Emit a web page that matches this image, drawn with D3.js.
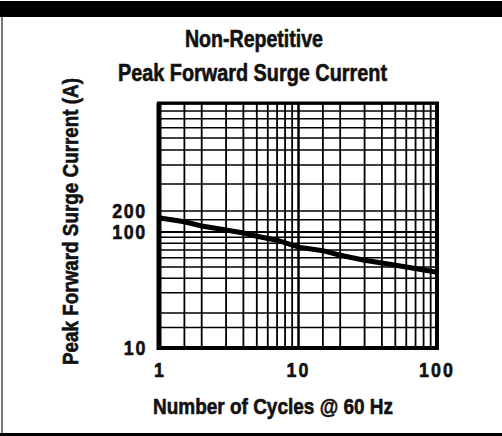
<!DOCTYPE html>
<html>
<head>
<meta charset="utf-8">
<script src="https://cdn.jsdelivr.net/npm/d3@7"></script>
<style>
    body { margin: 0; background: #fff; }
    svg { display: block; }
    text { font-family: "Liberation Sans", Arial, sans-serif; font-weight: bold; fill: #111; stroke: #111; stroke-width: 0.6px; }
</style>
</head>
<body>
<svg id="chart" width="502" height="436"></svg>
<script>
// surge curve
const cycles = [1, 1.5, 2, 3, 4, 5, 7, 10, 15, 20, 30, 40, 60, 100];
const surgeCurrent = [159, 140, 122, 107, 98, 92, 85, 74, 69, 63, 57, 54, 50, 45];

const xGridValues = [1, 1.5, 2, 3, 4, 5, 6, 7, 8, 9, 10, 15, 20, 30, 40, 50, 60, 70, 80, 90, 100];
const yGridValues = [10, 15, 20, 30, 40, 50, 60, 70, 80, 90, 100, 150, 200, 300, 400, 500, 600, 700, 800, 900, 1000];
const xTickLabels = [1, 10, 100];
const yTickLabels = [10, 100, 200];

const svg = d3.select('#chart');

// frame of the page
svg.append('rect').attr('x', 0).attr('y', 0).attr('width', 502).attr('height', 436).attr('fill', '#fff');
svg.append('rect').attr('x', 0).attr('y', 1).attr('width', 502).attr('height', 16).attr('fill', '#000');
svg.append('rect').attr('x', 0).attr('y', 433).attr('width', 502).attr('height', 3).attr('fill', '#000');
svg.append('rect').attr('x', 1).attr('y', 17).attr('width', 2).attr('height', 416).attr('fill', '#777');

const x = d3.scaleLog().domain([1, 100]).range([160, 437]);
// the scanned axis is not evenly spaced, so the log scale is piecewise
const y = d3.scaleLog().domain([10, 100, 200, 1000]).range([348, 232, 211, 104]);

const g = svg.append('g');

g.selectAll('line.vgrid')
    .data(xGridValues)
    .join('line')
    .attr('class', 'vgrid')
    .attr('x1', d => x(d)).attr('x2', d => x(d))
    .attr('y1', y(1000)).attr('y2', y(10))
    .attr('stroke', '#000')
    .attr('stroke-width', d => d === 10 ? 2.5 : 1.8);

g.selectAll('line.hgrid')
    .data(yGridValues)
    .join('line')
    .attr('class', 'hgrid')
    .attr('x1', x(1)).attr('x2', x(100))
    .attr('y1', d => y(d)).attr('y2', d => y(d))
    .attr('stroke', '#000')
    .attr('stroke-width', d => d === 100 ? 2 : 1.5);

// thick plot border
g.append('line').attr('x1', x(1) - 1).attr('x2', x(1) - 1).attr('y1', y(1000) - 1).attr('y2', y(10) + 2)
    .attr('stroke', '#000').attr('stroke-width', 5);
g.append('line').attr('x1', x(1) - 3).attr('x2', x(100) + 2).attr('y1', y(10)).attr('y2', y(10))
    .attr('stroke', '#000').attr('stroke-width', 4);
g.append('line').attr('x1', x(1) - 3).attr('x2', x(100) + 2).attr('y1', y(1000) - 1).attr('y2', y(1000) - 1)
    .attr('stroke', '#000').attr('stroke-width', 3);
g.append('line').attr('x1', x(100)).attr('x2', x(100)).attr('y1', y(1000) - 2).attr('y2', y(10) + 2)
    .attr('stroke', '#000').attr('stroke-width', 4);

const line = d3.line()
    .x(d => x(d[0]))
    .y(d => y(d[1]));

g.append('path')
    .datum(d3.zip(cycles, surgeCurrent))
    .attr('d', line)
    .attr('fill', 'none')
    .attr('stroke', '#000')
    .attr('stroke-width', 5);

// tick labels, narrowed like the condensed face of the original
svg.selectAll('text.xtick')
    .data(xTickLabels)
    .join('text')
    .attr('class', 'xtick')
    .attr('transform', d => `translate(${x(d)},377) scale(0.85,1)`)
    .attr('text-anchor', 'middle')
    .attr('font-size', 21)
    .attr('letter-spacing', 2.5)
    .text(d => d);

svg.selectAll('text.ytick')
    .data(yTickLabels)
    .join('text')
    .attr('class', 'ytick')
    .attr('transform', d => `translate(147,${y(d) + 7}) scale(0.85,1)`)
    .attr('text-anchor', 'end')
    .attr('font-size', 21)
    .attr('letter-spacing', 2)
    .text(d => d);

// titles: width fitted to the original lettering
const addLabel = (text, cx, cy, len, size, rotate) => {
    svg.append('text')
        .attr('transform', `translate(${cx},${cy})` + (rotate ? ' rotate(-90)' : ''))
        .attr('x', -len / 2)
        .attr('font-size', size)
        .attr('textLength', len)
        .attr('lengthAdjust', 'spacingAndGlyphs')
        .text(text);
};

addLabel('Non-Repetitive', 254, 47, 138, 23, false);
addLabel('Peak Forward Surge Current', 252.5, 81, 269, 23, false);
addLabel('Number of Cycles @ 60 Hz', 273, 414, 240, 22, false);
addLabel('Peak Forward Surge Current (A)', 78, 221.5, 287, 22, true);
</script>
</body>
</html>
